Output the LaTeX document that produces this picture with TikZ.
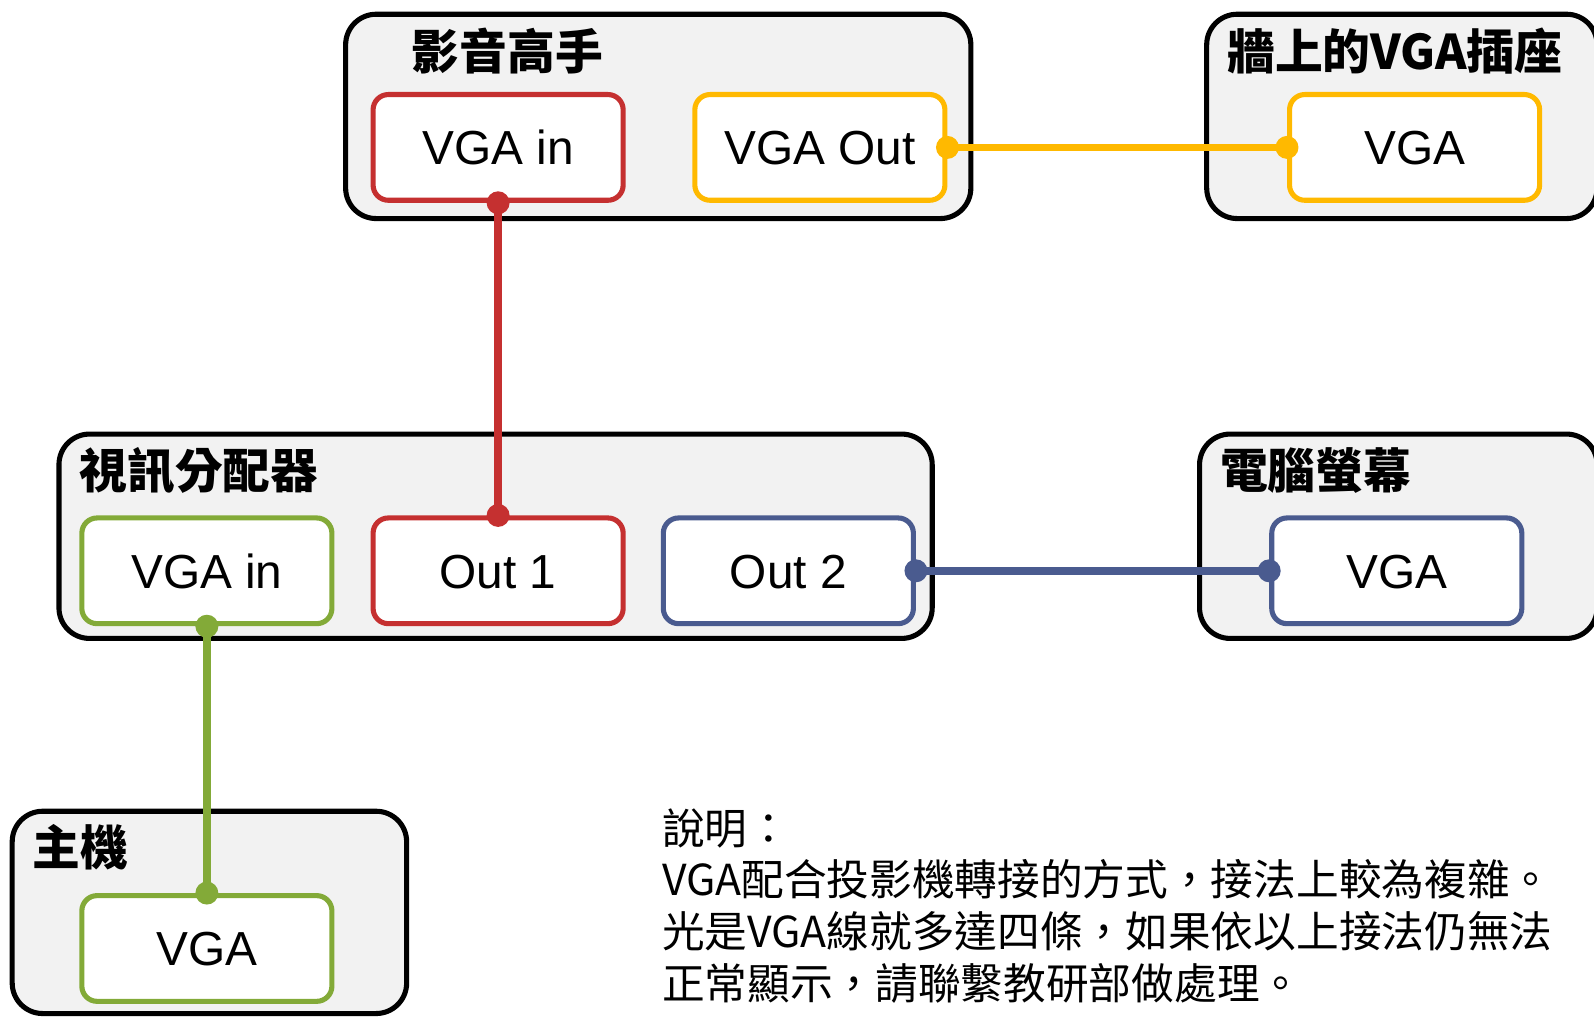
\documentclass[tikz,border=0pt]{standalone}
\usepackage{fontspec}
\setmainfont{Liberation Sans}
\newfontfamily\cjk{Noto Sans CJK TC}
\usetikzlibrary{calc}
\definecolor{cred}{RGB}{197,48,48}
\definecolor{cyellow}{RGB}{255,185,0}
\definecolor{cblue}{RGB}{74,91,143}
\definecolor{cgreen}{RGB}{131,170,56}
\definecolor{cgray}{RGB}{242,242,242}
\tikzset{
  outerbox/.style={draw=black, line width=5pt, fill=cgray, rounded corners=30pt, minimum height=201pt, inner sep=0pt},
  port/.style={draw=#1, line width=5pt, fill=white, rounded corners=15pt, minimum width=246pt, minimum height=104pt, inner sep=0pt,
    font=\fontsize{47}{56}\selectfont, text height=34pt, text depth=0pt},
  boxtitle/.style={anchor=west, inner sep=0pt, font=\cjk\bfseries\fontsize{47}{56}\selectfont},
  wire/.style={draw=#1, line width=7.5pt},
  dot/.style={fill=#1}
}
\begin{document}
\begin{tikzpicture}[x=1pt,y=-1pt]
\useasboundingbox (0,0) rectangle (1568,1000);
\clip (0,0) rectangle (1568,1000);
% outer boxes
\node[outerbox, minimum width=615pt] (A) at (647.5,114.5) {};
\node[outerbox, minimum width=384pt] (B) at (1379,114.5) {};
\node[outerbox, minimum width=859pt] (C) at (487.5,527.5) {};
\node[outerbox, minimum width=391pt] (D) at (1375.5,527.5) {};
\node[outerbox, minimum width=388pt, minimum height=199pt] (E) at (206,897.5) {};
% titles
\node[boxtitle] (At) at (405,50) {影音高手};
\node[boxtitle] (Bt) at (1207,50) {牆上的VGA插座};
\node[boxtitle] (Ct) at (78,463) {視訊分配器};
\node[boxtitle] (Dt) at (1200,463) {電腦螢幕};
\node[boxtitle] (Et) at (32,833) {主機};
% ports
\node[port=cred] (A1) at (490,145) {VGA in};
\node[port=cyellow] (A2) at (806.5,145) {VGA Out};
\node[port=cyellow] (B1) at (1391.5,145) {VGA};
\node[port=cgreen] (C1) at (203.5,561.5) {VGA in};
\node[port=cred] (C2) at (490,561.5) {Out 1};
\node[port=cblue] (C3) at (775.5,561.5) {Out 2};
\node[port=cblue] (D1) at (1374,561.5) {VGA};
\node[port=cgreen] (E1) at (203.5,933) {VGA};
% wires
\draw[wire=cred] (A1.south) -- (C2.north);
\draw[wire=cyellow] (A2.east) -- (B1.west);
\draw[wire=cblue] (C3.east) -- (D1.west);
\draw[wire=cgreen] (C1.south) -- (E1.north);
\fill[dot=cred] (A1.south) circle (11.3pt) (C2.north) circle (11.3pt);
\fill[dot=cyellow] (A2.east) circle (11.3pt) (B1.west) circle (11.3pt);
\fill[dot=cblue] (C3.east) circle (11.3pt) (D1.west) circle (11.3pt);
\fill[dot=cgreen] (C1.south) circle (11.3pt) (E1.north) circle (11.3pt);
% note
\node[anchor=north west, inner sep=0pt, align=left, font=\cjk\fontsize{42}{51}\selectfont] (note) at (651,795)
{說明：\\VGA配合投影機轉接的方式，接法上較為複雜。\\光是VGA線就多達四條，如果依以上接法仍無法\\正常顯示，請聯繫教研部做處理。};
\end{tikzpicture}
\end{document}
